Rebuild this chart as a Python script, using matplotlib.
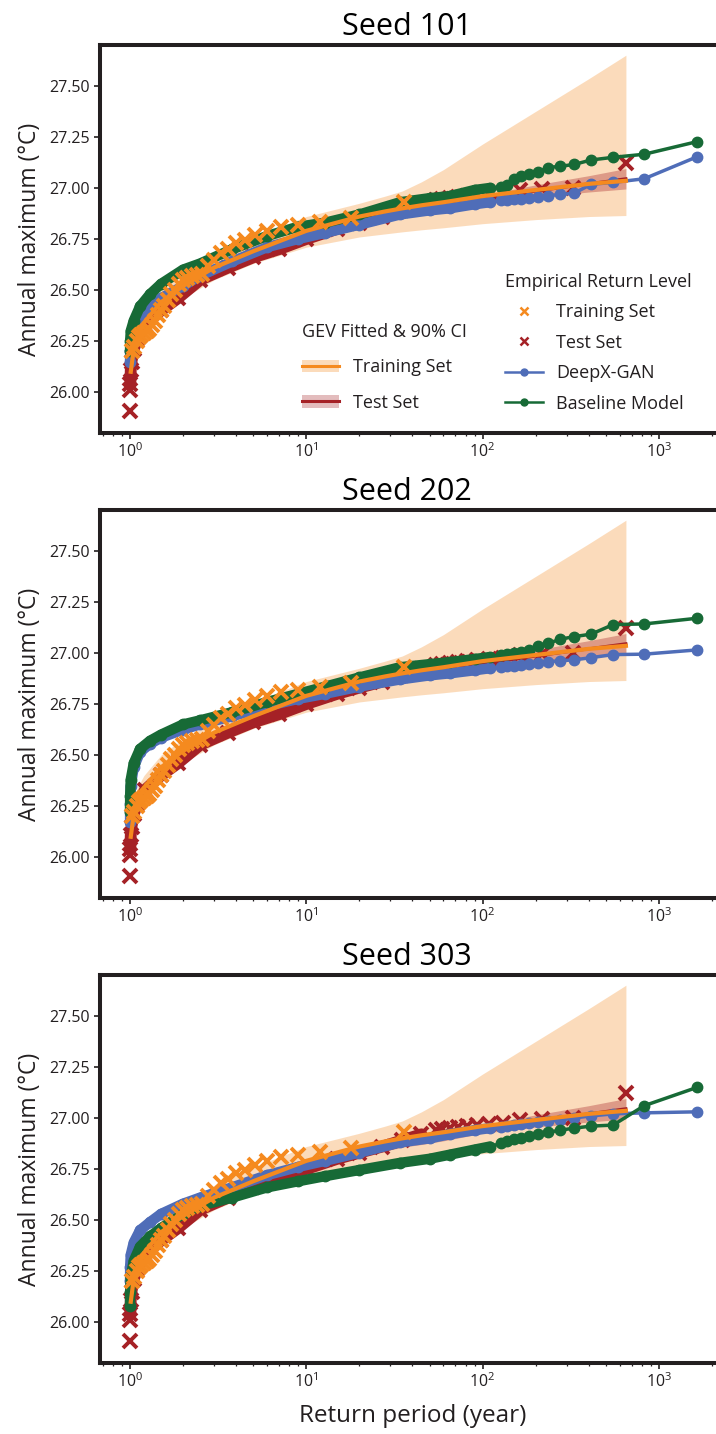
import numpy as np
import matplotlib
matplotlib.use("Agg")
import matplotlib.pyplot as plt
from matplotlib.lines import Line2D
from matplotlib.patches import Patch
from matplotlib.ticker import LogLocator, FixedLocator, FormatStrFormatter, NullFormatter

plt.rcParams['font.family'] = ['Open Sans', 'DejaVu Sans']
plt.rcParams['mathtext.default'] = 'regular'

ORANGE = '#F58A1F'
RED = '#A52126'
BLUE = '#4F6DB8'
GREEN = '#176A36'
INK = '#231F20'

# ---------------------------------------------------------------------------
# Observed annual maxima
# ---------------------------------------------------------------------------
# Training set: 35 annual maxima, sorted from largest to smallest
train_level = [26.93, 26.855, 26.835, 26.82, 26.81, 26.79, 26.77, 26.745, 26.73,
               26.70, 26.68, 26.645, 26.62, 26.58, 26.575, 26.57, 26.56, 26.55,
               26.53, 26.50, 26.48, 26.45, 26.42, 26.40, 26.38, 26.35, 26.33,
               26.31, 26.30, 26.29, 26.28, 26.27, 26.25, 26.22, 26.20]

# Test set empirical return levels (return period in years, level in degC)
test_T = [651, 325.5, 217, 162.75, 130.2, 108.5, 93, 81.4, 72.3, 65.1, 59.2,
          54.25, 45, 35, 27, 20, 15, 10, 7, 5, 3.6, 2.5, 1.87, 1.5, 1.22, 1.1,
          1.05, 1.02, 1.01, 1.0046, 1.0031, 1.0015]
test_level = [27.12, 27.00, 26.995, 26.99, 26.975, 26.97, 26.965, 26.96, 26.955,
              26.95, 26.945, 26.94, 26.92, 26.89, 26.86, 26.83, 26.80, 26.75,
              26.70, 26.66, 26.61, 26.55, 26.46, 26.40, 26.33, 26.26, 26.21,
              26.15, 26.11, 26.04, 26.01, 25.91]

# ---------------------------------------------------------------------------
# GEV fits with 90% confidence intervals
# ---------------------------------------------------------------------------
gev_T = [1.01, 1.05, 1.1, 1.2, 1.5, 2, 3, 5, 10, 20, 28, 35, 45, 60, 100, 200,
         400, 650]
train_fit = [26.10, 26.21, 26.27, 26.34, 26.44, 26.52, 26.61, 26.69, 26.79, 26.86,
             26.885, 26.90, 26.915, 26.93, 26.96, 26.99, 27.02, 27.035]
train_ci_low = [25.98, 26.12, 26.20, 26.28, 26.38, 26.46, 26.55, 26.63, 26.71, 26.76,
                26.775, 26.785, 26.795, 26.805, 26.825, 26.845, 26.86, 26.865]
train_ci_high = [26.20, 26.29, 26.34, 26.40, 26.50, 26.58, 26.67, 26.76, 26.86, 26.925,
                 26.96, 26.985, 27.03, 27.09, 27.215, 27.375, 27.535, 27.65]
test_fit = [26.08, 26.20, 26.26, 26.32, 26.41, 26.49, 26.575, 26.655, 26.745, 26.82,
            26.85, 26.87, 26.885, 26.905, 26.945, 26.985, 27.02, 27.045]
test_ci_low = [26.05, 26.18, 26.245, 26.31, 26.40, 26.48, 26.565, 26.645, 26.735, 26.81,
               26.838, 26.857, 26.87, 26.888, 26.925, 26.955, 26.98, 26.995]
test_ci_high = [26.11, 26.22, 26.275, 26.33, 26.42, 26.50, 26.585, 26.665, 26.755, 26.83,
                26.862, 26.883, 26.90, 26.922, 26.965, 27.015, 27.06, 27.095]

# ---------------------------------------------------------------------------
# Generated samples: empirical return levels of the two models per seed
# ---------------------------------------------------------------------------
model_T = [1651, 825.5, 550.3, 412.8, 330.2, 275.2, 235.9, 206.4, 183.4, 165.1,
           150.1, 137.6, 127.0, 110, 90, 65, 50, 34, 20, 12.8, 9, 6, 3.8, 2.5,
           2, 1.5, 1.3, 1.14, 1.05, 1.01, 1.002, 1.0006]

gan_101 = [27.153, 27.045, 27.027, 27.018, 26.974, 26.968, 26.962, 26.957, 26.952,
           26.948, 26.945, 26.942, 26.94, 26.93, 26.92, 26.90, 26.89, 26.87, 26.82,
           26.78, 26.75, 26.71, 26.64, 26.57, 26.52, 26.46, 26.42, 26.36, 26.30,
           26.25, 26.20, 26.15]
base_101 = [27.227, 27.165, 27.15, 27.137, 27.115, 27.106, 27.10, 27.078, 27.066,
            27.058, 27.045, 27.015, 27.005, 27.0, 26.99, 26.96, 26.95, 26.93, 26.87,
            26.83, 26.81, 26.765, 26.70, 26.63, 26.60, 26.53, 26.48, 26.42, 26.35,
            26.30, 26.25, 26.20]

gan_202 = [27.015, 26.994, 26.992, 26.977, 26.966, 26.962, 26.957, 26.949, 26.945,
           26.94, 26.937, 26.935, 26.93, 26.925, 26.915, 26.90, 26.89, 26.87, 26.835,
           26.80, 26.775, 26.74, 26.69, 26.65, 26.625, 26.585, 26.555, 26.515, 26.44,
           26.35, 26.26, 26.17]
base_202 = [27.17, 27.142, 27.139, 27.092, 27.08, 27.067, 27.047, 27.036, 27.015,
            27.005, 27.0, 26.995, 26.99, 26.98, 26.97, 26.955, 26.945, 26.93, 26.88,
            26.835, 26.80, 26.76, 26.71, 26.67, 26.65, 26.60, 26.57, 26.53, 26.46,
            26.38, 26.30, 26.22]

gan_303 = [27.03, 27.025, 27.02, 27.01, 27.0, 26.99, 26.985, 26.98, 26.975, 26.97,
           26.965, 26.96, 26.955, 26.95, 26.94, 26.92, 26.90, 26.88, 26.83, 26.79,
           26.76, 26.72, 26.66, 26.61, 26.58, 26.53, 26.49, 26.45, 26.39, 26.33,
           26.27, 26.20]
base_303 = [27.15, 27.06, 26.965, 26.96, 26.95, 26.94, 26.93, 26.92, 26.91, 26.90,
            26.895, 26.885, 26.875, 26.86, 26.845, 26.82, 26.80, 26.78, 26.745, 26.715,
            26.69, 26.66, 26.61, 26.57, 26.53, 26.46, 26.42, 26.37, 26.30, 26.22,
            26.15, 26.08]

seeds = ['Seed 101', 'Seed 202', 'Seed 303']
gan_levels = [gan_101, gan_202, gan_303]
base_levels = [base_101, base_202, base_303]

y_ticks = [26.00, 26.25, 26.50, 26.75, 27.00, 27.25, 27.50]

# ---------------------------------------------------------------------------
# Layout (pixel based)
# ---------------------------------------------------------------------------
W, H = 716, 1434
fig = plt.figure(figsize=(W / 100, H / 100), dpi=100)

LEFT_PX = 100
DECADE_PX = 176.3
LOG_LO = -30 / DECADE_PX
LOG_HI = 3.38
AX_W = DECADE_PX * (LOG_HI - LOG_LO)
AX_H = 388
TOPS = [45, 510, 975]


def band_plot(ax, T, y, dense, color, width, z):
    T = np.asarray(T)
    y = np.asarray(y)
    ax.plot(T[dense], y[dense], color=color, lw=width, solid_capstyle='round',
            solid_joinstyle='round', zorder=z)


def draw_panel(ax, gan, base):
    ax.fill_between(gev_T, train_ci_low, train_ci_high, color=ORANGE, alpha=0.3,
                    lw=0, zorder=1)
    ax.fill_between(gev_T, test_ci_low, test_ci_high, color=RED, alpha=0.35,
                    lw=0, zorder=2)

    tT = np.asarray(test_T)
    dense = (tT < 50) & (tT > 1.004)
    band_plot(ax, tT, test_level, dense, RED, 8.5, 3)
    ax.plot(tT, test_level, ls='none', marker='x', ms=9.5, mew=2.8, color=RED,
            zorder=3)
    ax.plot(gev_T, test_fit, color=RED, lw=2.2, zorder=3.5)

    mT = np.asarray(model_T)
    mdense = mT < 120
    band_plot(ax, mT, gan, mdense, BLUE, 7.5, 4)
    ax.plot(mT, gan, '-o', color=BLUE, lw=2.5, ms=7.5, zorder=4)
    band_plot(ax, mT, base, mdense, GREEN, 7.5, 5)
    ax.plot(mT, base, '-o', color=GREEN, lw=2.5, ms=7.5, zorder=5)

    n = len(train_level)
    train_T = [(n + 1) / r for r in range(1, n + 1)]
    ax.plot(train_T, train_level, ls='none', marker='x', ms=9.5, mew=2.8,
            color=ORANGE, zorder=6)
    ax.plot(gev_T, train_fit, color=ORANGE, lw=3, zorder=7)


axes = []
for i, top in enumerate(TOPS):
    ax = fig.add_axes([LEFT_PX / W, 1 - (top + AX_H) / H, AX_W / W, AX_H / H])
    draw_panel(ax, gan_levels[i], base_levels[i])
    ax.set_xscale('log')
    ax.set_xlim(10 ** LOG_LO, 10 ** LOG_HI)
    ax.set_ylim(25.80, 27.70)
    ax.yaxis.set_major_locator(FixedLocator(y_ticks))
    ax.yaxis.set_major_formatter(FormatStrFormatter('%.2f'))
    ax.xaxis.set_major_locator(LogLocator(base=10, numticks=10))
    ax.xaxis.set_minor_locator(LogLocator(base=10, subs=np.arange(2, 10), numticks=20))
    ax.xaxis.set_minor_formatter(NullFormatter())
    for side in ('top', 'left', 'bottom'):
        ax.spines[side].set_linewidth(2.9)
        ax.spines[side].set_color(INK)
    ax.spines['right'].set_visible(False)
    ax.tick_params(axis='both', which='major', length=4, width=1.2, color=INK,
                   labelsize=11.5, labelcolor=INK, pad=3)
    ax.tick_params(axis='x', which='minor', length=2.5, width=0.9, color=INK)
    ax.set_title(seeds[i], fontsize=22, color='black', pad=7, x=0.49)
    ax.set_ylabel('Annual maximum (°C)', fontsize=16.5, color=INK)
    ax.yaxis.set_label_coords(-0.093, 0.5)
    axes.append(ax)

axes[-1].set_xlabel('Return period (year)', fontsize=17.5, color=INK)
axes[-1].xaxis.set_label_coords(0.5, -0.105)

# Legends (first panel only)
ax = axes[0]
gev_handles = [(Patch(facecolor=ORANGE, alpha=0.3, edgecolor='none'),
                Line2D([], [], color=ORANGE, lw=2.2)),
               (Patch(facecolor=RED, alpha=0.3, edgecolor='none'),
                Line2D([], [], color=RED, lw=2.2))]
leg1 = ax.legend(gev_handles, ['Training Set', 'Test Set'],
                 title='GEV Fitted & 90% CI', loc='upper left',
                 bbox_to_anchor=(0.323, 0.283), frameon=False, fontsize=13,
                 title_fontsize=13, alignment='left', handlelength=2.05,
                 handleheight=0.7, handletextpad=0.78, labelspacing=0.95,
                 borderpad=0, borderaxespad=0)
for t in leg1.get_texts():
    t.set_color(INK)
leg1.get_title().set_color(INK)
ax.add_artist(leg1)

emp_handles = [Line2D([], [], ls='none', marker='x', color=ORANGE, ms=6, mew=1.8),
               Line2D([], [], ls='none', marker='x', color=RED, ms=6, mew=1.8),
               Line2D([], [], color=BLUE, marker='o', ms=5, lw=1.8),
               Line2D([], [], color=GREEN, marker='o', ms=5, lw=1.8)]
leg2 = ax.legend(emp_handles, ['Training Set', 'Test Set', 'DeepX-GAN', 'Baseline Model'],
                 title='Empirical Return Level', loc='upper left',
                 bbox_to_anchor=(0.647, 0.413), frameon=False, fontsize=13,
                 title_fontsize=13, alignment='left', handlelength=2.1,
                 handletextpad=0.72, labelspacing=0.69, borderpad=0, borderaxespad=0)
for t in leg2.get_texts():
    t.set_color(INK)
leg2.get_title().set_color(INK)

fig.savefig('out.png', dpi=100)
